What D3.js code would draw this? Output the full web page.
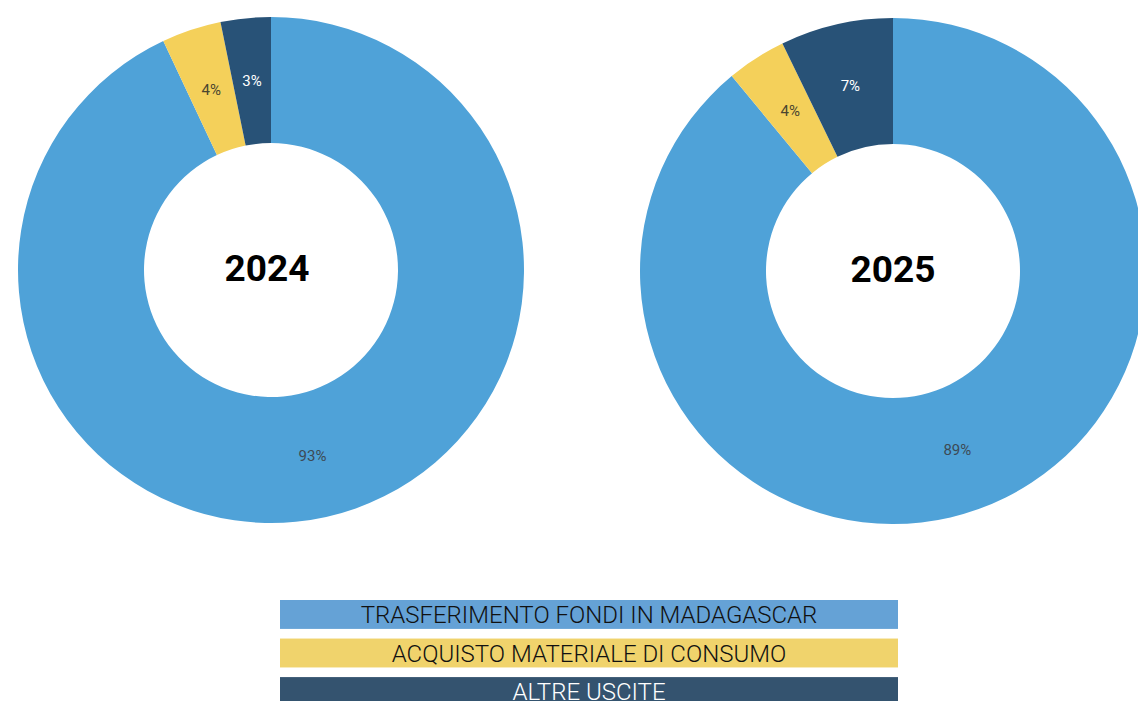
<!DOCTYPE html>
<html>
<head>
<meta charset="utf-8">
<script src="https://cdn.jsdelivr.net/npm/d3@7"></script>
<style>
  body { margin: 0; background: #fff; overflow: hidden; }
  svg { display: block; }
</style>
</head>
<body>
<div id="chart"></div>
<script>
// categories and values
var categories = ["TRASFERIMENTO FONDI IN MADAGASCAR", "ACQUISTO MATERIALE DI CONSUMO", "ALTRE USCITE"];
var years = ["2024", "2025"];
var values2024 = [93.0, 3.8, 3.2];
var values2025 = [89.0, 3.8, 7.2];
var labels2024 = ["93%", "4%", "3%"];
var labels2025 = ["89%", "4%", "7%"];

var sliceColors = ["#4fa2d8", "#f4d05a", "#285277"];
var legendColors = ["#65a2d6", "#f0d36c", "#34536f"];
var labelColors = ["#3d4a55", "#4a4530", "#ffffff"];
var legendText = ["#111111", "#111111", "#ffffff"];

function init() {
    var w = 1138;
    var h = 701;

    var svg = d3.select("#chart")
        .append("svg")
        .attr("width", w)
        .attr("height", h);

    var outerR = 253;
    var innerR = 127;

    var pie = d3.pie().sort(null).value(function (d) { return d; });
    var arc = d3.arc().innerRadius(innerR).outerRadius(outerR);

    var donuts = [
        { year: years[0], values: values2024, labels: labels2024, cx: 271, cy: 270, dx: -4 },
        { year: years[1], values: values2025, labels: labels2025, cx: 893, cy: 271, dx: 0 }
    ];

    donuts.forEach(function (dn) {
        var g = svg.append("g")
            .attr("transform", "translate(" + dn.cx + "," + dn.cy + ")");

        var arcs = pie(dn.values);

        g.selectAll("path")
            .data(arcs)
            .enter()
            .append("path")
            .attr("d", arc)
            .attr("fill", function (d, i) { return sliceColors[i]; });

        g.selectAll("text.pct")
            .data(arcs)
            .enter()
            .append("text")
            .attr("class", "pct")
            .text(function (d, i) { return dn.labels[i]; })
            .attr("transform", function (d) {
                var c = arc.centroid(d);
                return "translate(" + c[0] + "," + c[1] + ")";
            })
            .attr("dy", "0.35em")
            .attr("fill", function (d, i) { return labelColors[i]; })
            .attr("font-family", "Roboto, sans-serif")
            .attr("font-size", "15px")
            .attr("text-anchor", "middle");

        g.append("text")
            .text(dn.year)
            .attr("x", dn.dx)
            .attr("y", -2)
            .attr("dy", "0.35em")
            .attr("fill", "#000")
            .attr("font-family", "Roboto, sans-serif")
            .attr("font-weight", "bold")
            .attr("font-size", "37px")
            .attr("text-anchor", "middle");
    });

    // legend
    var legendX = 280;
    var legendW = 618;
    var legendY = d3.scaleBand()
        .domain(categories)
        .range([600, 706])
        .paddingInner(0.25);

    var lg = svg.append("g");

    lg.selectAll("rect")
        .data(categories)
        .enter()
        .append("rect")
        .attr("x", legendX)
        .attr("y", function (d) { return legendY(d); })
        .attr("width", legendW)
        .attr("height", legendY.bandwidth())
        .attr("fill", function (d, i) { return legendColors[i]; });

    lg.selectAll("text")
        .data(categories)
        .enter()
        .append("text")
        .text(function (d) { return d; })
        .attr("x", legendX + legendW / 2)
        .attr("y", function (d) { return legendY(d) + legendY.bandwidth() / 2; })
        .attr("dy", "0.36em")
        .attr("fill", function (d, i) { return legendText[i]; })
        .attr("font-family", "Roboto, sans-serif")
        .attr("font-weight", "300")
        .attr("font-size", "24px")
        .attr("text-anchor", "middle");
}

window.onload = init;
</script>
</body>
</html>
